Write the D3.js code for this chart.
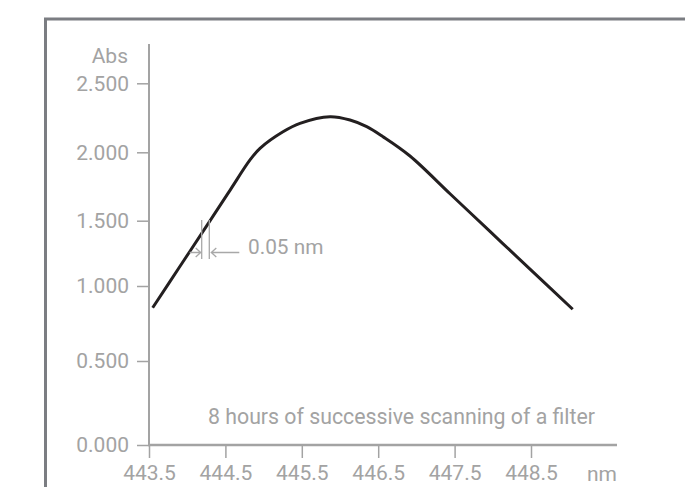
<!DOCTYPE html>
<html>
<head>
<meta charset="utf-8">
<script src="https://cdn.jsdelivr.net/npm/d3@7"></script>
<style>
  body { margin: 0; background: #fff; }
  text { font-family: Roboto, "Open Sans", sans-serif; fill: #a3a3a3; }
</style>
</head>
<body>
<svg id="chart" width="685" height="487"></svg>
<script>
// spectrum
var wavelength = [443.548, 443.906, 444.272, 444.560, 444.822, 444.953, 445.254, 445.476, 445.869, 446.131, 446.35, 446.563, 446.916, 447.44, 447.963, 448.487, 449.046]
var absorbance = [0.855, 1.151, 1.476, 1.722, 1.944, 2.029, 2.149, 2.210, 2.258, 2.234, 2.186, 2.113, 1.973, 1.697, 1.418, 1.129, 0.845]

var xTicks = [443.5, 444.5, 445.5, 446.5, 447.5, 448.5]
var yTicks = [0, 0.5, 1, 1.5, 2, 2.5]
var yTickPos = [445, 361, 286, 220.7, 152.3, 83.3]   // the printed axis is not evenly spaced

var svg = d3.select("#chart")

// grey frame round the figure
svg.append("rect")
  .attr("x", 45.5).attr("y", 19)
  .attr("width", 700).attr("height", 500)
  .attr("fill", "none")
  .attr("stroke", "#7b7d82")
  .attr("stroke-width", 3)

var x = d3.scaleLinear().domain([443.5, 448.5]).range([149, 531])
var y = d3.scaleLinear().domain(yTicks).range(yTickPos)

var axisColor = "#a3a3a3"

// y axis
var yAxis = svg.append("g")
  .attr("transform", "translate(149,0)")
  .call(d3.axisLeft(y).tickValues(yTicks).tickSize(12).tickPadding(8)
    .tickFormat(d3.format(".3f")))
yAxis.select(".domain").remove()
yAxis.selectAll(".tick line").attr("stroke", axisColor).attr("stroke-width", 1.5)
yAxis.selectAll(".tick text").attr("font-size", 21).attr("fill", axisColor)
  .attr("font-family", "Roboto")

svg.append("line")
  .attr("x1", 149).attr("x2", 149)
  .attr("y1", 44).attr("y2", 446)
  .attr("stroke", axisColor).attr("stroke-width", 2)

// x axis
var xAxis = svg.append("g")
  .attr("transform", "translate(0,445)")
  .call(d3.axisBottom(x).tickValues(xTicks).tickSize(13).tickPadding(7)
    .tickFormat(d3.format(".1f")))
xAxis.select(".domain").remove()
xAxis.selectAll(".tick line").attr("stroke", axisColor).attr("stroke-width", 1.5)
xAxis.selectAll(".tick text").attr("font-size", 21).attr("fill", axisColor)
  .attr("font-family", "Roboto")

svg.append("line")
  .attr("x1", 148).attr("x2", 617)
  .attr("y1", 445).attr("y2", 445)
  .attr("stroke", axisColor).attr("stroke-width", 2.5)

svg.append("text").attr("x", 128).attr("y", 63)
  .attr("text-anchor", "end").attr("font-size", 21).text("Abs")
svg.append("text").attr("x", 617).attr("y", 481)
  .attr("text-anchor", "end").attr("font-size", 21).text("nm")

// the scan
var pts = wavelength.map(function(d, i){ return [d, absorbance[i]] })
var line = d3.line()
  .x(function(d){ return x(d[0]) })
  .y(function(d){ return y(d[1]) })
  .curve(d3.curveCatmullRom.alpha(0.5))

svg.append("path")
  .datum(pts)
  .attr("d", line)
  .attr("fill", "none")
  .attr("stroke", "#231f20")
  .attr("stroke-width", 3)

// 0.05 nm marker
var ann = "#a8a8a8"
var a0 = 201.7, a1 = 209.3
;[a0, a1].forEach(function(v){
  svg.append("line").attr("x1", v).attr("x2", v)
    .attr("y1", 220).attr("y2", 259)
    .attr("stroke", ann).attr("stroke-width", 1.3)
})
svg.append("path")
  .attr("d", "M" + (a0 - 12) + ",252.5H" + (a0 - 1) + "M" + (a0 - 6) + ",248L" + (a0 - 1) + ",252.5L" + (a0 - 6) + ",257")
  .attr("fill", "none").attr("stroke", ann).attr("stroke-width", 1.3)
svg.append("path")
  .attr("d", "M" + (a1 + 30) + ",252.5H" + (a1 + 2) + "M" + (a1 + 7) + ",248L" + (a1 + 2) + ",252.5L" + (a1 + 7) + ",257")
  .attr("fill", "none").attr("stroke", ann).attr("stroke-width", 1.3)
svg.append("text").attr("x", 248).attr("y", 254)
  .attr("font-size", 20.8).text("0.05 nm")

svg.append("text").attr("x", 208).attr("y", 424)
  .attr("font-size", 21.3).text("8 hours of successive scanning of a filter")
</script>
</body>
</html>
